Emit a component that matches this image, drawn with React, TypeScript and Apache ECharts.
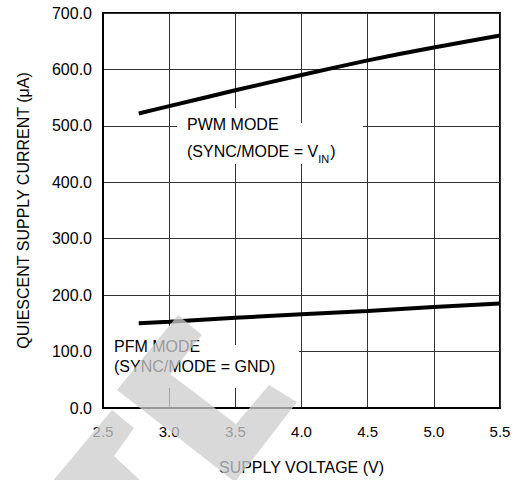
import React, { useEffect, useRef } from "react";
import * as echarts from "echarts";

// ---- data ----
const xTickValues = [2.5, 3.0, 3.5, 4.0, 4.5, 5.0, 5.5];
const yTickValues = [0, 100, 200, 300, 400, 500, 600, 700];
const pwmVoltage = [2.77, 3.0, 3.5, 4.0, 4.5, 5.0, 5.5];
const pwmCurrent = [522, 535, 563, 590, 616, 639, 660];
const pfmVoltage = [2.77, 3.0, 3.5, 4.0, 4.5, 5.0, 5.5];
const pfmCurrent = [150, 153, 160, 166, 172, 179, 185];
const xAxisTitle = "SUPPLY VOLTAGE (V)";
const yAxisTitle = "QUIESCENT SUPPLY CURRENT (μA)";
const pwmLabel1 = "PWM MODE";
const pwmLabel2 = "{n|(SYNC/MODE = V}{s|IN}{n|)}";
const pfmLabel1 = "PFM MODE";
const pfmLabel2 = "(SYNC/MODE = GND)";

const FONT = "'Liberation Sans', Arial, sans-serif";

export default function App() {
  const ref = useRef<HTMLDivElement>(null);
  useEffect(() => {
    const chart = echarts.init(ref.current!, null, { renderer: "svg" });
    const wmFill = "rgba(204,204,204,0.75)";
    const textStyleBase = { fill: "#000", fontSize: 16, fontFamily: FONT };
    chart.setOption({
      animation: false,
      backgroundColor: "#fff",
      grid: {
        left: 103,
        right: 24,
        top: 13,
        bottom: 71,
        show: true,
        borderColor: "#000",
        borderWidth: 2,
        backgroundColor: "transparent",
      },
      xAxis: {
        type: "value",
        min: xTickValues[0],
        max: xTickValues[xTickValues.length - 1],
        interval: xTickValues[1] - xTickValues[0],
        name: xAxisTitle,
        nameLocation: "middle",
        nameGap: 51,
        nameTextStyle: { color: "#000", fontSize: 16, fontFamily: FONT },
        axisLine: { show: true, lineStyle: { color: "#000", width: 2 } },
        axisTick: { show: false },
        axisLabel: {
          color: "#000",
          fontSize: 15,
          fontFamily: FONT,
          margin: 16,
          formatter: (v: number) => v.toFixed(1),
        },
        splitLine: { show: true, lineStyle: { color: "#333", width: 1 } },
      },
      yAxis: {
        type: "value",
        min: yTickValues[0],
        max: yTickValues[yTickValues.length - 1],
        interval: yTickValues[1] - yTickValues[0],
        name: yAxisTitle,
        nameLocation: "middle",
        nameGap: 72,
        nameTextStyle: { color: "#000", fontSize: 16, fontFamily: FONT },
        axisLine: { show: true, lineStyle: { color: "#000", width: 2 } },
        axisTick: { show: false },
        axisLabel: {
          color: "#000",
          fontSize: 16,
          fontFamily: FONT,
          margin: 11,
          formatter: (v: number) => v.toFixed(1),
        },
        splitLine: { show: true, lineStyle: { color: "#333", width: 1 } },
      },
      series: [
        {
          type: "line",
          data: pwmVoltage.map((v, i) => [v, pwmCurrent[i]]),
          symbol: "none",
          smooth: 0.2,
          lineStyle: { color: "#000", width: 4 },
          z: 3,
        },
        {
          type: "line",
          data: pfmVoltage.map((v, i) => [v, pfmCurrent[i]]),
          symbol: "none",
          lineStyle: { color: "#000", width: 4 },
          z: 3,
        },
      ],
      graphic: [
        // white backgrounds behind annotations
        { type: "rect", shape: { x: 177, y: 108, width: 103, height: 26 }, style: { fill: "#fff" }, z: 5 },
        { type: "rect", shape: { x: 177, y: 123, width: 186, height: 41 }, style: { fill: "#fff" }, z: 5 },
        { type: "rect", shape: { x: 104, y: 326, width: 96, height: 30 }, style: { fill: "#fff" }, z: 5 },
        { type: "rect", shape: { x: 104, y: 345, width: 195, height: 43 }, style: { fill: "#fff" }, z: 5 },
        {
          type: "text",
          x: 187,
          y: 124,
          z: 6,
          style: { ...textStyleBase, text: pwmLabel1, textVerticalAlign: "middle" },
        },
        {
          type: "text",
          x: 187,
          y: 151,
          z: 6,
          style: {
            ...textStyleBase,
            text: pwmLabel2,
            textVerticalAlign: "middle",
            rich: {
              n: { fontSize: 16, fontFamily: FONT, fill: "#000", lineHeight: 26, verticalAlign: "middle" },
              s: { fontSize: 11, fontFamily: FONT, fill: "#000", lineHeight: 11, verticalAlign: "bottom", padding: [15, 1, 0, 0] },
            },
          },
        },
        {
          type: "text",
          x: 114,
          y: 346,
          z: 6,
          style: { ...textStyleBase, text: pfmLabel1, textVerticalAlign: "middle" },
        },
        {
          type: "text",
          x: 114,
          y: 366,
          z: 6,
          style: { ...textStyleBase, text: pfmLabel2, textVerticalAlign: "middle" },
        },
        // watermark
        {
          type: "polygon",
          z: 100,
          silent: true,
          shape: {
            points: [
              [178, 315], [202, 335], [170, 374], [236, 424], [269, 385],
              [297, 402], [235, 482], [117, 390],
            ],
          },
          style: { fill: wmFill },
        },
        {
          type: "polygon",
          z: 100,
          silent: true,
          shape: { points: [[112, 410], [134, 428], [114, 456], [142, 482], [52, 482]] },
          style: { fill: wmFill },
        },
      ],
    });
    return () => chart.dispose();
  }, []);
  return (
    <div
      ref={ref}
      style={{ position: "fixed", left: 0, top: 0, width: 524, height: 480 }}
    />
  );
}
